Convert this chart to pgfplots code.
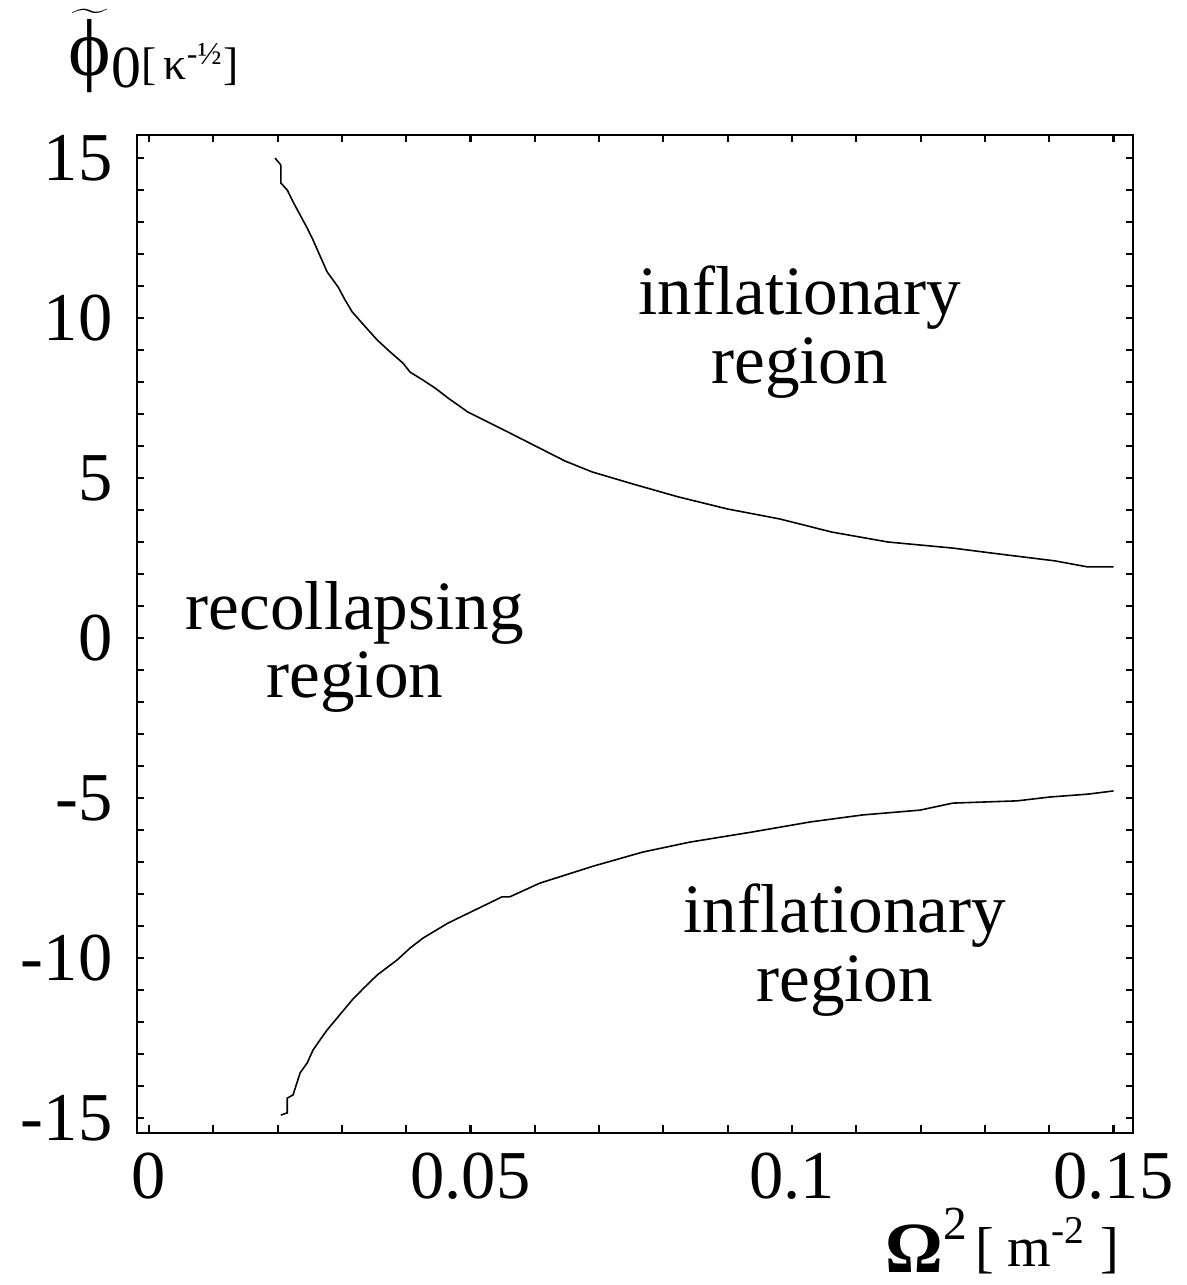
\documentclass[border=0pt]{standalone}
\usepackage{fontspec}
\setmainfont{Liberation Serif}
\usepackage{pgfplots}
\pgfplotsset{compat=1.18}

\begin{document}
\begin{tikzpicture}
\path[use as bounding box] (-1.37,-1.52) rectangle (10.49,11.33);
\begin{axis}[at={(0,0)},anchor=south west,scale only axis,
 width=9.96cm,height=9.98cm,
 xmin=-0.00187,xmax=0.15303,ymin=-15.47,ymax=15.72,
 xtick={0,0.05,0.1,0.15},xticklabels={0,0.05,0.1,0.15},
 ytick={-15,-10,-5,0,5,10,15},yticklabels={-15,-10,-5,0,5,10,15},
 minor x tick num=4,minor y tick num=4,
 tick align=inside,major tick length=0.075cm,minor tick length=0.075cm,
 axis line style={line width=0.6pt},
 every tick/.style={black,line width=0.6pt},
 tick label style={font=\fontsize{19.5}{20}\selectfont,inner sep=0pt},
 xticklabel style={yshift=-0.19cm},
 yticklabel style={xshift=-0.24cm},
 clip=false]
% upper boundary
\addplot[black,line width=0.45pt] coordinates {
 (0.0196,15.0) (0.0205,14.78) (0.0205,14.22) (0.0215,14.0) (0.0224,13.63)
 (0.0235,13.22) (0.0246,12.81) (0.0255,12.44) (0.0264,12.03) (0.0277,11.44)
 (0.0294,10.97) (0.0305,10.56) (0.0316,10.19) (0.0334,9.78) (0.0355,9.31)
 (0.0375,8.94) (0.0395,8.59) (0.0406,8.31) (0.0426,8.06) (0.0445,7.81)
 (0.0465,7.5) (0.0496,7.06) (0.0546,6.56) (0.0647,5.53) (0.0689,5.19)
 (0.0753,4.81) (0.0823,4.41) (0.0900,4.03) (0.0981,3.72) (0.1062,3.31)
 (0.1149,3.0) (0.125,2.81) (0.132,2.63) (0.1409,2.41) (0.146,2.22) (0.15,2.22)};
% lower boundary
\addplot[black,line width=0.45pt] coordinates {
 (0.0205,-14.91) (0.0215,-14.84) (0.0215,-14.38) (0.0224,-14.28) (0.0235,-13.59)
 (0.0246,-13.28) (0.0255,-12.88) (0.0266,-12.56) (0.0277,-12.25) (0.0294,-11.84)
 (0.0316,-11.31) (0.0334,-10.94) (0.0355,-10.53) (0.0386,-10.06) (0.0406,-9.69)
 (0.0426,-9.38) (0.0465,-8.91) (0.0549,-8.09) (0.0561,-8.09) (0.0608,-7.66)
 (0.0691,-7.13) (0.0768,-6.69) (0.0841,-6.38) (0.0939,-6.06) (0.1028,-5.75)
 (0.1110,-5.53) (0.1199,-5.38) (0.125,-5.16) (0.135,-5.09) (0.1401,-4.97)
 (0.146,-4.88) (0.15,-4.78)};
\node[align=center,font=\fontsize{19.7}{19.5}\selectfont] at (axis cs:0.1012,9.56) {inflationary\\region};
\node[align=center,font=\fontsize{19.7}{19.5}\selectfont] at (axis cs:0.032,-0.28) {recollapsing\\region};
\node[align=center,font=\fontsize{19.7}{19.5}\selectfont] at (axis cs:0.1082,-9.75) {inflationary\\region};
\end{axis}
% axis labels
\node[anchor=base west,inner sep=0pt] at (-0.69,10.57) {\fontsize{23}{23}\selectfont
 $\widetilde{\hbox{ϕ}}$\raisebox{-0.12cm}{\fontsize{17}{17}\selectfont 0}\raisebox{-0.04cm}{\fontsize{13}{13}\selectfont[\,κ\textsuperscript{-½}]}};
\node[anchor=base west,inner sep=0pt] at (7.48,-1.39) {\fontsize{20.5}{20}\selectfont
 \textbf{Ω}\raisebox{0.32cm}{\fontsize{13.5}{13}\selectfont 2}\hspace{0.08cm}\raisebox{0.06cm}{\fontsize{16}{16}\selectfont[ m\textsuperscript{-2} ]}};
\end{tikzpicture}
\end{document}
